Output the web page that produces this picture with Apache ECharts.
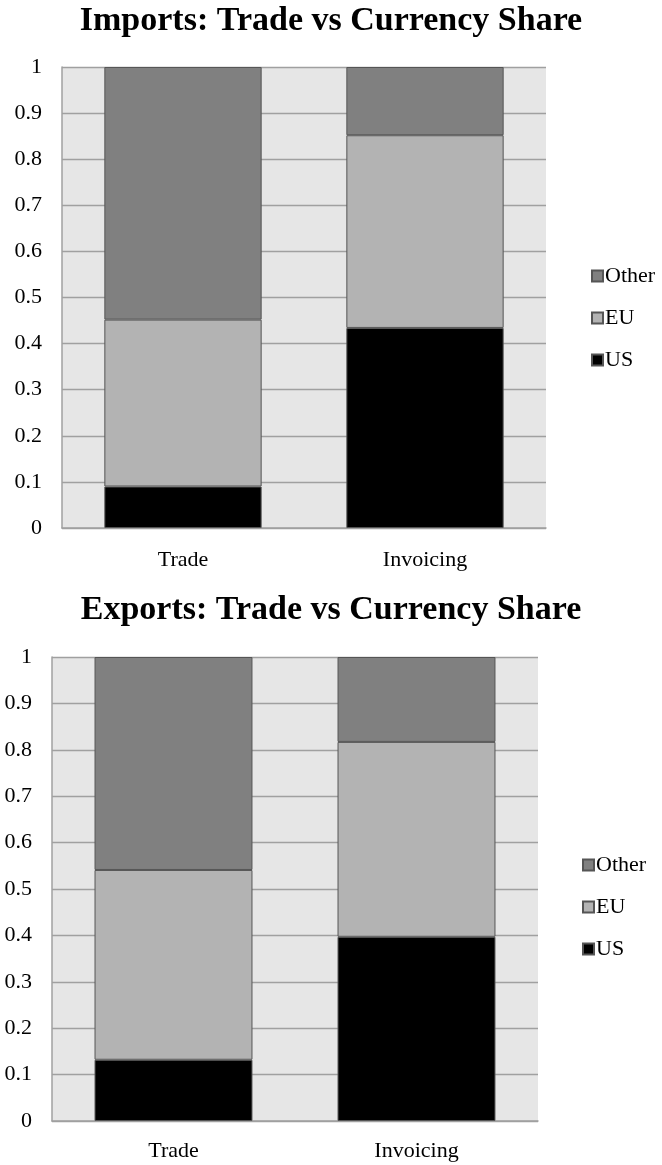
<!DOCTYPE html>
<html>
<head>
<meta charset="utf-8">
<script src="https://cdn.jsdelivr.net/npm/echarts@6/dist/echarts.min.js"></script>
<style>
html,body{margin:0;padding:0;background:#fff;}
#chart{width:662px;height:1165px;}
</style>
</head>
<body>
<div id="chart"></div>
<script>
const categories = ['Trade', 'Invoicing'];
const yTicks = ['0','0.1','0.2','0.3','0.4','0.5','0.6','0.7','0.8','0.9','1'];
const titles = ['Imports: Trade vs Currency Share', 'Exports: Trade vs Currency Share'];
const seriesNames = ['US', 'EU', 'Other'];
// Imports shares
const importsUS = [0.09, 0.434];
const importsEU = [0.362, 0.418];
const importsOther = [0.548, 0.148];
// Exports shares
const exportsUS = [0.132, 0.397];
const exportsEU = [0.409, 0.42];
const exportsOther = [0.459, 0.183];

const colors = { US: '#000000', EU: '#b3b3b3', Other: '#808080' };
const font = 'Liberation Serif';

const chart = echarts.init(document.getElementById('chart'));

function axisPair(idx) {
  return {
    x: {
      type: 'category', gridIndex: idx, data: categories,
      axisLine: { show: true, lineStyle: { color: '#a0a0a0', width: 1.5 } },
      axisTick: { show: false },
      axisLabel: { color: '#000', fontFamily: font, fontSize: 22, margin: idx === 0 ? 21 : 19 }
    },
    y: {
      type: 'value', gridIndex: idx, min: 0, max: 1, interval: 0.1,
      axisLine: { show: true, lineStyle: { color: '#a0a0a0', width: 1.5 } },
      axisTick: { show: false },
      splitLine: { show: true, lineStyle: { color: '#a0a0a0', width: 1.3 } },
      axisLabel: {
        color: '#000', fontFamily: font, fontSize: 22, margin: 20, align: 'right',
        formatter: function (v) { return yTicks[Math.round(v * 10)]; }
      }
    }
  };
}
const a0 = axisPair(0), a1 = axisPair(1);

function mk(name, data, idx) {
  return {
    name: name, type: 'bar', stack: 's' + idx,
    xAxisIndex: idx, yAxisIndex: idx,
    data: data, barCategoryGap: '35%',
    itemStyle: { color: colors[name], borderColor: '#555', borderWidth: 1 },
    emphasis: { disabled: true }
  };
}

const legendCommon = {
  orient: 'vertical', left: 586, itemWidth: 11, itemHeight: 11, itemGap: 20,
  icon: 'rect',
  textStyle: { fontFamily: font, fontSize: 22, color: '#000', padding: [0, 0, 0, -3] },
  data: ['Other', 'EU', 'US']
};

chart.setOption({
  animation: false,
  backgroundColor: '#fff',
  title: [
    { text: titles[0], left: 'center', top: -1, textStyle: { fontFamily: font, fontWeight: 'bold', fontSize: 34, color: '#000' } },
    { text: titles[1], left: 'center', top: 588, textStyle: { fontFamily: font, fontWeight: 'bold', fontSize: 34, color: '#000' } }
  ],
  legend: [
    Object.assign({}, legendCommon, { top: 260 }),
    Object.assign({}, legendCommon, { top: 849, left: 577 })
  ],
  grid: [
    { left: 62, top: 67, width: 484, height: 461, backgroundColor: '#e6e6e6', show: true, borderWidth: 0 },
    { left: 52, top: 657, width: 486, height: 464, backgroundColor: '#e6e6e6', show: true, borderWidth: 0 }
  ],
  xAxis: [a0.x, a1.x],
  yAxis: [a0.y, a1.y],
  series: [
    mk('US', importsUS, 0), mk('EU', importsEU, 0), mk('Other', importsOther, 0),
    mk('US', exportsUS, 1), mk('EU', exportsEU, 1), mk('Other', exportsOther, 1)
  ]
});
</script>
</body>
</html>
